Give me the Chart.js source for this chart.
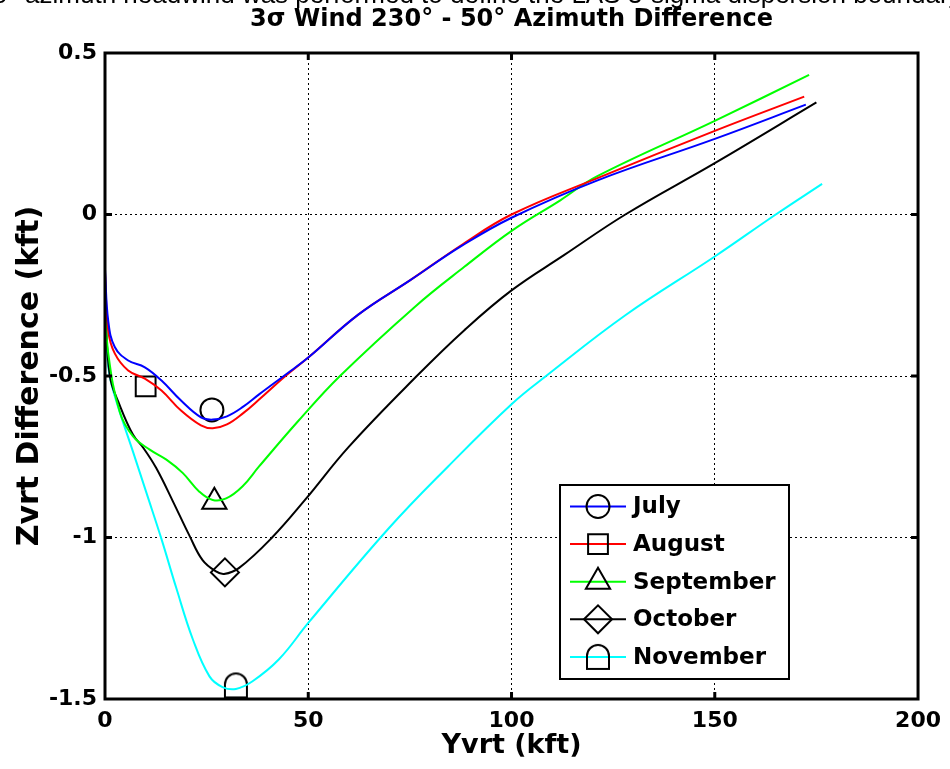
<!DOCTYPE html>
<html>
<head>
<meta charset="utf-8">
<script src="https://cdn.jsdelivr.net/npm/chart.js@4/dist/chart.umd.min.js"></script>
<style>
  html, body { margin: 0; padding: 0; background: #fff; overflow: hidden; }
  #wrap { position: relative; width: 950px; height: 769px; overflow: hidden; }
  #cut {
    position: absolute; left: -7px; top: -21px; white-space: nowrap; line-height: 30px;
    font: 26px "Liberation Sans", Arial, sans-serif; color: #000; pointer-events: none;
  }
</style>
</head>
<body>
<div id="wrap">
  <canvas id="chart" width="950" height="769"></canvas>
  <div id="cut">0° azimuth headwind was performed to define the LAS 3-sigma dispersion boundary</div>
</div>
<script>
// --- data (Yvrt kft, Zvrt difference kft) ---
const seriesNames = ['July', 'August', 'September', 'October', 'November'];
const seriesColors = ['#0000ff', '#ff0000', '#00ff00', '#000000', '#00ffff'];

const julyX = [0, 0.8, 2.4, 5.7, 9.8, 13.9, 18.7, 23.6, 26.5, 30, 34, 37.9, 44.4, 50, 62.3, 75, 88, 100, 121, 150, 172.4];
const julyY = [-0.17, -0.33, -0.41, -0.452, -0.473, -0.514, -0.576, -0.628, -0.635, -0.625, -0.595, -0.557, -0.496, -0.443, -0.31, -0.204, -0.095, -0.01, 0.105, 0.234, 0.34];

const augustX = [0, 0.8, 2.4, 5.7, 9.8, 13.9, 18.7, 23.6, 26.5, 30, 34, 37.9, 44.4, 50, 62.3, 75, 88, 100, 121, 150, 172];
const augustY = [-0.18, -0.36, -0.43, -0.483, -0.508, -0.545, -0.607, -0.653, -0.662, -0.65, -0.615, -0.573, -0.5, -0.443, -0.31, -0.204, -0.092, 0.0, 0.112, 0.259, 0.365];

const septemberX = [0, 0.8, 3.7, 6.9, 11, 15.1, 19.1, 23.2, 26.5, 29.8, 33.8, 37.9, 47.7, 57.8, 76.2, 88.4, 100.2, 112, 121, 150, 173.2];
const septemberY = [-0.26, -0.43, -0.614, -0.687, -0.728, -0.759, -0.8, -0.858, -0.884, -0.879, -0.842, -0.78, -0.637, -0.5, -0.286, -0.162, -0.049, 0.044, 0.118, 0.29, 0.432];

const octoberX = [0, 1.2, 3.7, 6.9, 9.4, 12.6, 16.7, 20.8, 24, 27.3, 29.3, 33, 41.1, 49.3, 59.9, 76.7, 88.4, 100, 112.9, 128, 150, 175];
const octoberY = [-0.27, -0.5, -0.593, -0.682, -0.722, -0.785, -0.888, -0.995, -1.07, -1.105, -1.113, -1.094, -1.0, -0.882, -0.72, -0.5, -0.358, -0.235, -0.126, 0.0, 0.159, 0.347];

const novemberX = [0, 0.8, 2.4, 6.9, 10.2, 13.9, 17.5, 21.6, 25.7, 28.9, 32.2, 36.3, 42.8, 50.1, 69.7, 84.4, 100.2, 108.5, 128, 150, 165, 176.4];
const novemberY = [-0.28, -0.47, -0.562, -0.735, -0.862, -1.005, -1.155, -1.315, -1.43, -1.463, -1.469, -1.445, -1.377, -1.263, -0.973, -0.78, -0.585, -0.5, -0.312, -0.13, 0.0, 0.095];

// one marker per series
const markerX = [26.3, 10.0, 26.9, 29.5, 32.2];
const markerY = [-0.605, -0.532, -0.889, -1.108, -1.458];

const xTicks = [0, 50, 100, 150, 200];
const yTicks = [0.5, 0, -0.5, -1, -1.5];

const titleText = '3\u03c3 Wind 230\u00b0 - 50\u00b0 Azimuth Difference';
const xTitle = 'Yvrt (kft)';
const yTitle = 'Zvrt Difference (kft)';

// --- dome shaped marker used for November ---
const dome = document.createElement('canvas');
dome.width = 26;
dome.height = 28;
(function () {
  const c = dome.getContext('2d');
  c.strokeStyle = '#000';
  c.lineWidth = 2;
  c.beginPath();
  c.moveTo(2, 26);
  c.lineTo(2, 13);
  c.arc(13, 13, 11, Math.PI, 0);
  c.lineTo(24, 26);
  c.closePath();
  c.stroke();
})();

const markerStyles = ['circle', 'rect', 'triangle', 'rectRot', dome];
const markerRadius = [11.5, 14, 14, 14, 12];

const xs = [julyX, augustX, septemberX, octoberX, novemberX];
const ys = [julyY, augustY, septemberY, octoberY, novemberY];

const FONT = '"DejaVu Sans", Verdana, sans-serif';

const lineSets = seriesNames.map((name, i) => ({
  label: name,
  data: xs[i].map((x, j) => ({ x: x, y: ys[i][j] })),
  borderColor: seriesColors[i],
  backgroundColor: seriesColors[i],
  borderWidth: 2,
  pointRadius: 0,
  fill: false,
  tension: 0.4
}));

const markerSets = seriesNames.map((name, i) => ({
  label: name + ' marker',
  data: [{ x: markerX[i], y: markerY[i] }],
  showLine: false,
  pointStyle: markerStyles[i],
  pointRadius: markerRadius[i],
  pointBorderWidth: 2,
  borderColor: '#000',
  backgroundColor: 'rgba(0,0,0,0)'
}));

// frame with inward ticks and the title centred over the axes
const framePlugin = {
  id: 'frame',
  afterDatasetsDraw(chart) {
    const { ctx, chartArea: a, scales } = chart;
    ctx.save();
    ctx.strokeStyle = '#000';
    ctx.lineWidth = 3;
    ctx.strokeRect(a.left, a.top, a.right - a.left, a.bottom - a.top);
    ctx.beginPath();
    xTicks.slice(1, -1).forEach(v => {
      const px = scales.x.getPixelForValue(v);
      ctx.moveTo(px, a.bottom); ctx.lineTo(px, a.bottom - 7);
      ctx.moveTo(px, a.top); ctx.lineTo(px, a.top + 7);
    });
    yTicks.slice(1, -1).forEach(v => {
      const py = scales.y.getPixelForValue(v);
      ctx.moveTo(a.left, py); ctx.lineTo(a.left + 7, py);
      ctx.moveTo(a.right, py); ctx.lineTo(a.right - 7, py);
    });
    ctx.stroke();

    ctx.fillStyle = '#000';
    ctx.font = 'bold 24px ' + FONT;
    ctx.textAlign = 'center';
    ctx.textBaseline = 'middle';
    ctx.fillText(titleText, (a.left + a.right) / 2, 20);
    ctx.restore();
  }
};

// legend box in the lower right, line + marker + label
const legendPlugin = {
  id: 'boxLegend',
  afterDraw(chart) {
    const ctx = chart.ctx;
    const left = 560, top = 485, w = 229, h = 194;
    ctx.save();
    ctx.fillStyle = '#fff';
    ctx.fillRect(left, top, w, h);
    ctx.strokeStyle = '#000';
    ctx.lineWidth = 2;
    ctx.strokeRect(left, top, w, h);
    seriesNames.forEach((name, i) => {
      const y = top + 21.5 + i * 37.6;
      ctx.strokeStyle = seriesColors[i];
      ctx.lineWidth = 2;
      ctx.beginPath();
      ctx.moveTo(570, y);
      ctx.lineTo(626, y);
      ctx.stroke();
      ctx.strokeStyle = '#000';
      ctx.fillStyle = 'rgba(0,0,0,0)';
      ctx.lineWidth = 2;
      Chart.helpers.drawPoint(ctx, {
        pointStyle: markerStyles[i], radius: markerRadius[i], rotation: 0, borderWidth: 2
      }, 598, y);
      ctx.fillStyle = '#000';
      ctx.font = 'bold 23px ' + FONT;
      ctx.textBaseline = 'middle';
      ctx.textAlign = 'left';
      ctx.fillText(name, 633, y + 1);
    });
    ctx.restore();
  }
};

new Chart(document.getElementById('chart'), {
  type: 'line',
  data: { datasets: lineSets.concat(markerSets) },
  options: {
    responsive: false,
    animation: false,
    devicePixelRatio: 1,
    events: [],
    layout: { padding: { left: 0, right: 27, top: 53, bottom: 0 } },
    plugins: {
      legend: { display: false },
      tooltip: { enabled: false },
      title: { display: false }
    },
    scales: {
      x: {
        type: 'linear',
        min: 0,
        max: 200,
        afterBuildTicks: axis => { axis.ticks = xTicks.map(v => ({ value: v })); },
        afterFit: scale => { scale.height = 70; },
        grid: { color: '#000', lineWidth: 1, drawTicks: false },
        border: { display: false, dash: [2, 3] },
        ticks: {
          color: '#000',
          padding: 9,
          maxRotation: 0,
          font: { family: FONT, size: 22, weight: 'bold' },
          callback: v => String(v)
        },
        title: {
          display: true,
          text: xTitle,
          color: '#000',
          font: { family: FONT, size: 27, weight: 'bold' },
          padding: { top: 0, bottom: 7 }
        }
      },
      y: {
        type: 'linear',
        min: -1.5,
        max: 0.5,
        afterBuildTicks: axis => { axis.ticks = yTicks.map(v => ({ value: v })); },
        afterFit: scale => { scale.width = 105; },
        grid: { color: '#000', lineWidth: 1, drawTicks: false },
        border: { display: false, dash: [2, 3] },
        ticks: {
          color: '#000',
          padding: 8,
          font: { family: FONT, size: 22, weight: 'bold' },
          callback: v => String(v)
        },
        title: {
          display: true,
          text: yTitle,
          color: '#000',
          font: { family: FONT, size: 30, weight: 'bold' },
          padding: { top: 12, bottom: 0 }
        }
      }
    }
  },
  plugins: [framePlugin, legendPlugin]
});
</script>
</body>
</html>
